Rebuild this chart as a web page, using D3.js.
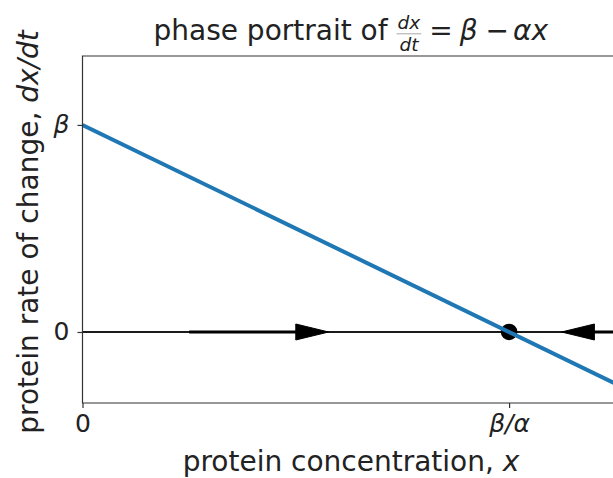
<!DOCTYPE html>
<html><head><meta charset="utf-8">
<script src="https://cdn.jsdelivr.net/npm/d3@7"></script>
<style>body{margin:0;background:#fff;overflow:hidden;} svg{display:block;font-family:"DejaVu Sans",sans-serif;}</style>
</head><body><svg id="c" width="613" height="478"></svg>
<script>
// axis limits (data units, beta = alpha = 1)
const xLimits = [0, 1.26];
const yLimits = [-0.343, 1.333];
// ticks
const xTickValues = [0, 1];
const xTickLabels = ["0", "β/α"];
const yTickValues = [0, 1];
const yTickLabels = ["0", "β"];
// dx/dt = beta - alpha x line
const curveX = [0, 1.26];
const curveY = [1, -0.26];
// zero line
const zeroLineY = [0];
// flow arrows on the x axis
const arrowStartX = [0.25, 1.45];
const arrowDX = [0.25, -0.25];
const arrowHeadLength = [0.077, 0.077];
// fixed point
const fixedPointX = [1];
const fixedPointY = [0];

const svg = d3.select("#c");
const L = 82.5, R = 620, T = 56, B = 403;
const x = d3.scaleLinear().domain(xLimits).range([L, R]);
const y = d3.scaleLinear().domain(yLimits).range([B, T]);

const clipId = "plotclip";
svg.append("defs").append("clipPath").attr("id", clipId)
  .append("rect").attr("x", L).attr("y", T).attr("width", R - L).attr("height", B - T);
const plot = svg.append("g").attr("clip-path", `url(#${clipId})`);

// zero line
plot.selectAll(".zl").data(zeroLineY).enter().append("line")
  .attr("x1", x(xLimits[0])).attr("x2", x(xLimits[1]))
  .attr("y1", d => y(d)).attr("y2", d => y(d))
  .attr("stroke", "#1a1a1a").attr("stroke-width", 2);

// arrows
arrowStartX.forEach((s, i) => {
  const dx = arrowDX[i];
  const base = s + dx;
  const tip = base + Math.sign(dx) * arrowHeadLength[i];
  const y0 = y(0);
  plot.append("line").attr("x1", x(s)).attr("x2", x(base))
    .attr("y1", y0).attr("y2", y0).attr("stroke", "#000").attr("stroke-width", 3.2);
  const hw = 8;
  plot.append("path")
    .attr("d", `M${x(base)},${y0 - hw}L${x(tip)},${y0}L${x(base)},${y0 + hw}Z`)
    .attr("fill", "#000").attr("stroke", "#000").attr("stroke-width", 1).attr("stroke-linejoin", "miter");
});

// fixed point
plot.selectAll(".fp").data(fixedPointX).enter().append("circle")
  .attr("cx", d => x(d)).attr("cy", (d, i) => y(fixedPointY[i])).attr("r", 8.3).attr("fill", "#000");

// curve
const line = d3.line().x(d => x(d[0])).y(d => y(d[1]));
plot.append("path").datum(curveX.map((v, i) => [v, curveY[i]]))
  .attr("d", line).attr("fill", "none").attr("stroke", "#1f77b4").attr("stroke-width", 4);

// spines
const sp = svg.append("g").attr("stroke", "#333").attr("stroke-width", 1.2).attr("fill", "none");
sp.append("path").attr("d", `M${L},${T}H${R}V${B}H${L}Z`);

// axes
const xAxis = d3.axisBottom(x).tickValues(xTickValues).tickFormat((d, i) => xTickLabels[i]).tickSize(5).tickPadding(6);
const yAxis = d3.axisLeft(y).tickValues(yTickValues).tickFormat((d, i) => yTickLabels[i]).tickSize(5).tickPadding(8);
const gx = svg.append("g").attr("transform", `translate(0,${B})`).call(xAxis);
const gy = svg.append("g").attr("transform", `translate(${L},0)`).call(yAxis);
[gx, gy].forEach(g => {
  g.select(".domain").remove();
  g.selectAll(".tick line").attr("stroke", "#333").attr("stroke-width", 1.2);
  g.selectAll(".tick text").attr("font-family", "DejaVu Sans").attr("font-size", 25).attr("fill", "#222")
    .attr("font-style", d => d === 0 ? "normal" : "italic");
});

// axis labels
const xl = svg.append("text").attr("x", 351).attr("y", 471).attr("text-anchor", "middle")
  .attr("font-size", 28).attr("fill", "#222");
xl.append("tspan").text("protein concentration, ");
xl.append("tspan").attr("font-style", "italic").text("x");

const yl = svg.append("text").attr("transform", "translate(38,232) rotate(-90)").attr("text-anchor", "middle")
  .attr("font-size", 28).attr("fill", "#222");
yl.append("tspan").text("protein rate of change, ");
yl.append("tspan").attr("font-style", "italic").text("dx/dt");

// title with fraction
const tg = svg.append("g").attr("fill", "#222");
const t1 = tg.append("text").attr("x", 0).attr("y", 40).attr("font-size", 28).text("phase portrait of");
const w1 = t1.node().getComputedTextLength();
const fx = w1 + 9;
const num = tg.append("text").attr("y", 29).attr("font-size", 18.5).attr("font-style", "italic").attr("text-anchor", "middle").text("dx");
const den = tg.append("text").attr("y", 51).attr("font-size", 18.5).attr("font-style", "italic").attr("text-anchor", "middle").text("dt");
const fw = Math.max(num.node().getComputedTextLength(), den.node().getComputedTextLength()) + 2;
num.attr("x", fx + fw / 2); den.attr("x", fx + fw / 2);
tg.append("line").attr("x1", fx).attr("x2", fx + fw).attr("y1", 33.8).attr("y2", 33.8).attr("stroke", "#222").attr("stroke-width", 0.8).attr("stroke-opacity", 0.5);
const t2 = tg.append("text").attr("x", fx + fw + 8).attr("y", 40).attr("font-size", 28);
t2.append("tspan").text("=");
t2.append("tspan").attr("dx", 7).attr("font-style", "italic").text("β");
t2.append("tspan").attr("dx", 8).text("−");
t2.append("tspan").attr("dx", 4).attr("font-style", "italic").text("αx");
const bb = tg.node().getBBox();
tg.attr("transform", `translate(${351 - (bb.x + bb.width / 2)},0)`);
</script></body></html>
